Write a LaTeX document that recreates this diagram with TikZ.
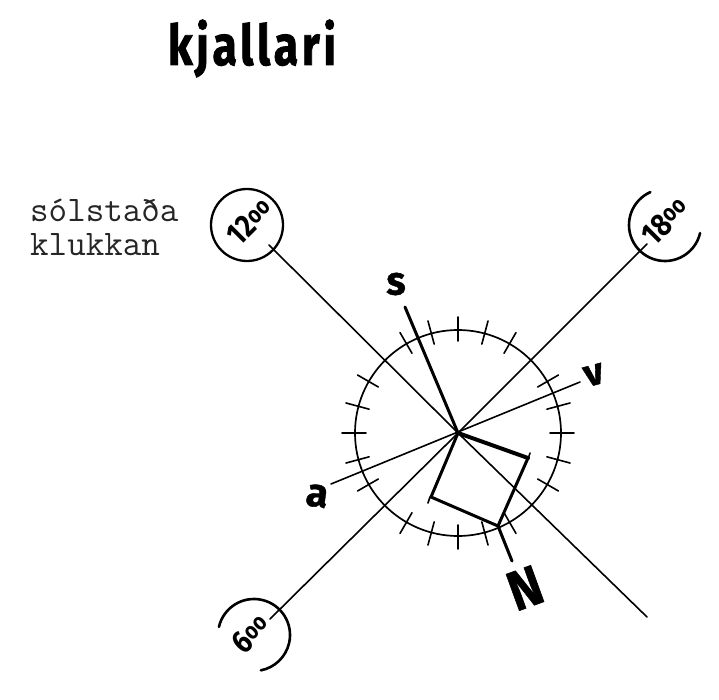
\documentclass[tikz,border=0pt]{standalone}
\usepackage{fontspec}
\usetikzlibrary{calc}
\setmainfont{Fira Sans}
\newfontfamily\titlef[LetterSpace=8,FakeBold=1.5]{Fira Sans Bold}
\newfontfamily\handf[FakeBold=1]{Fira Sans Bold}
\newcommand{\hourtext}[1]{\fontsize{32}{32}\selectfont\fontseries{sb}\selectfont #1\raisebox{5pt}{\fontsize{24}{24}\selectfont\bfseries oo}}
\begin{document}
\begin{tikzpicture}[x=1pt,y=-1pt,line cap=round,
  thinline/.style={line width=1.6pt},
  heavy/.style={line width=3pt},
  dial/.style={line width=2.6pt},
  handtext/.style={inner sep=0pt},
  hourlabel/.style={inner sep=0pt,rotate=45,xscale=.85},
  typed/.style={font=\ttfamily\fontsize{36}{36}\selectfont,inner sep=0pt,anchor=base west,text=black!85}]
\useasboundingbox (0,0) rectangle (719,700);
\coordinate (c) at (458,433);
\coordinate (h12) at (269,245);
\coordinate (h18) at (647,244);
\coordinate (h6) at (270,619);
\coordinate (se) at (647,617);
\coordinate (sEnd) at (405,307);
\coordinate (vEnd) at (580,382);
\coordinate (aEnd) at (331,484);
\coordinate (q1) at (528,458);
\coordinate (q2) at (498,526);
\coordinate (q3) at (431,497);
\coordinate (nEnd) at (512,561);
\node[draw,circle,line width=1.7pt,minimum size=206pt,inner sep=0pt] (dialc) at (c) {};
\foreach \a in {0,15,30,60,75,90,105,120,150,165,180,195,210,240,255,270,285,300,330,345}
  \draw[thinline] ($(c)+(\a:92)$) -- ($(c)+(\a:116)$);
\draw[thinline] (h12) -- (c) -- (se);
\draw[thinline] (h18) -- (c) -- (h6);
\draw[thinline] (vEnd) -- (aEnd);
\draw[heavy] (sEnd) -- (c);
\draw[line width=4pt] (c) -- (q1);
\draw[heavy] (q1) -- (q2) -- (q3) -- (c);
\draw[heavy] (q2) -- (nEnd);
\draw[thinline] ($(q1)+(0,1)$) -- ($(q1)+(2,-5)$);
\draw[thinline] ($(q3)+(-1,0)$) -- ($(q3)+(-3,6)$);
\node[draw,circle,line width=2.3pt,minimum size=72pt,inner sep=0pt] (c12) at (247,225) {};
\coordinate (c18) at (665,225);
\coordinate (c6) at (254,635);
\draw[dial] (c18)++(-114:36) arc[start angle=-114,end angle=-347,radius=36];
\draw[dial] (c6)++(-167:36) arc[start angle=-167,end angle=79,radius=36];
\node[hourlabel] (t12) at (250,222) {\hourtext{12}};
\node[hourlabel] (t18) at (665,221) {\hourtext{18}};
\node[hourlabel] (t6) at (251,634) {\hourtext{6}};
\node[font=\titlef\fontsize{56}{56}\selectfont,inner sep=0pt,anchor=base,xscale=.8] (title) at (252,65) {kjallari};
\node[typed] (l1) at (30,222) {sólstaða};
\node[typed] (l2) at (30,255) {klukkan};
\node[handtext,font=\handf\fontsize{40}{40}\selectfont] (s) at (396,284) {s};
\node[handtext,font=\handf\fontsize{38}{38}\selectfont,rotate=15] (v) at (594,375) {v};
\node[handtext,font=\handf\fontsize{40}{40}\selectfont,rotate=-8] (a) at (317,496) {a};
\node[handtext,font=\handf\fontsize{56}{56}\selectfont,rotate=20,xscale=.88] (N) at (525,588) {N};
\end{tikzpicture}
\end{document}
